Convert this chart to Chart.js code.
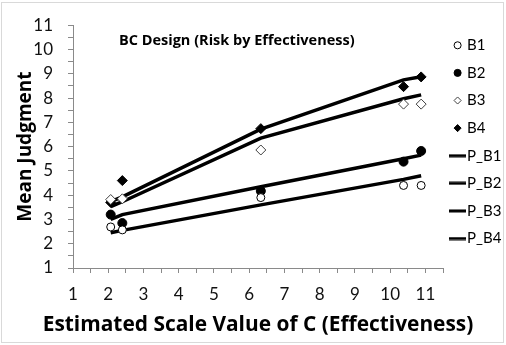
<!DOCTYPE html>
<html>
<head>
<meta charset="utf-8">
<script src="https://cdn.jsdelivr.net/npm/chart.js@4"></script>
<style>
  html, body { margin: 0; padding: 0; background: #fff; }
  #wrap { width: 506px; height: 345px; }
</style>
</head>
<body>
<div id="wrap"><canvas id="chart" width="506" height="345"></canvas></div>
<script>
// data
const xVals = [2.07, 2.4, 6.33, 10.38, 10.88];
const b1 = [2.69, 2.57, 3.9, 4.4, 4.4];
const b2 = [3.2, 2.85, 4.17, 5.38, 5.82];
const b3 = [3.82, 3.85, 5.86, 7.75, 7.75];
const b4 = [3.7, 4.6, 6.74, 8.47, 8.87];
const pB1 = [2.45, 2.55, 3.6, 4.65, 4.8];
const pB2 = [3.0, 3.2, 4.35, 5.5, 5.65];
const pB3 = [3.53, 3.73, 6.35, 7.97, 8.13];
const pB4 = [3.73, 3.93, 6.72, 8.75, 8.88];
const seriesNames = ['B1', 'B2', 'B3', 'B4', 'P_B1', 'P_B2', 'P_B3', 'P_B4'];
const chartTitle = 'BC Design (Risk by Effectiveness)';
const xTitle = 'Estimated Scale Value of C (Effectiveness)';
const yTitle = 'Mean Judgment';

document.addEventListener('DOMContentLoaded', function(){
    const ctx = document.getElementById('chart').getContext('2d');
    const FONT = 'Lato, "Open Sans", sans-serif';
    const BOLD = '"Open Sans", Lato, sans-serif';
    const AXIS = '#8a8a8a';

    const pts = ys => xVals.map((x, i) => ({x: x, y: ys[i]}));

    // short thick dash used as legend marker for the prediction lines
    const dash = document.createElement('canvas');
    dash.width = 17; dash.height = 4;
    const dctx = dash.getContext('2d');
    dctx.fillStyle = '#000';
    dctx.fillRect(0, 0.5, 17, 3);

    const pointSet = (label, ys, style, fill, border, r) => ({
        label: label, data: pts(ys), showLine: false,
        pointStyle: style, pointRadius: r, pointHoverRadius: r,
        backgroundColor: fill, borderColor: border, borderWidth: 1
    });
    const lineSet = (label, ys) => ({
        label: label, data: pts(ys), showLine: true, tension: 0,
        borderColor: '#000', backgroundColor: '#000', borderWidth: 3.5,
        pointRadius: 0, pointHoverRadius: 0, pointStyle: dash
    });

    // frame, inner title and the x axis title (drawn here so it may run wider than the axis)
    const extras = {
        id: 'extras',
        beforeDraw(chart){
            const c = chart.ctx;
            c.save();
            c.strokeStyle = '#d9d9d9';
            c.lineWidth = 1;
            c.strokeRect(1.5, 2.5, 502, 340);
            c.restore();
        },
        afterDraw(chart){
            const c = chart.ctx, a = chart.chartArea;
            c.save();
            c.fillStyle = '#000';
            c.textBaseline = 'middle';
            c.font = 'bold 14.5px ' + BOLD;
            c.fillText(chartTitle, a.left + 46, a.top + 16);

            c.textAlign = 'center';
            let size = 21;
            c.font = 'bold ' + size + 'px ' + BOLD;
            const w = c.measureText(xTitle).width;
            size = Math.min(22, size * 430 / w);
            c.font = 'bold ' + size.toFixed(1) + 'px ' + BOLD;
            c.fillText(xTitle, (a.left + a.right) / 2, a.bottom + 57);
            c.restore();
        }
    };

    new Chart(ctx, {
        type: 'scatter',
        data: {
            datasets: [
                pointSet(seriesNames[0], b1, 'circle', '#fff', '#000', 4),
                pointSet(seriesNames[1], b2, 'circle', '#000', '#000', 4.5),
                pointSet(seriesNames[2], b3, 'rectRot', '#fff', '#404040', 5),
                pointSet(seriesNames[3], b4, 'rectRot', '#000', '#000', 5),
                lineSet(seriesNames[4], pB1),
                lineSet(seriesNames[5], pB2),
                lineSet(seriesNames[6], pB3),
                lineSet(seriesNames[7], pB4)
            ]
        },
        options: {
            responsive: false,
            devicePixelRatio: 1,
            animation: false,
            layout: { padding: { left: 4, top: 18, right: 0, bottom: 2 } },
            scales: {
                x: {
                    type: 'linear', min: 1, max: 11.5,
                    afterFit(s){ s.height = 75; },
                    ticks: {
                        stepSize: 0.5, maxTicksLimit: 100, autoSkip: false, maxRotation: 0,
                        callback: v => Number.isInteger(v) ? v : '',
                        color: '#111', font: { family: FONT, size: 17 }, padding: 11
                    },
                    grid: { drawOnChartArea: false, color: AXIS, tickLength: 5 },
                    border: { color: AXIS },
                    title: { display: false }
                },
                y: {
                    type: 'linear', min: 1, max: 11,
                    afterFit(s){ s.width = 69; },
                    ticks: {
                        stepSize: 0.5, maxTicksLimit: 100, autoSkip: false,
                        callback: v => Number.isInteger(v) ? v : '',
                        color: '#111', font: { family: FONT, size: 17 }, padding: 15
                    },
                    grid: { drawOnChartArea: false, color: AXIS, tickLength: 5 },
                    border: { color: AXIS },
                    title: {
                        display: true, text: yTitle, color: '#000',
                        font: { family: BOLD, size: 19, weight: 'bold' },
                        padding: { top: 10, bottom: 0 }
                    }
                }
            },
            plugins: {
                legend: {
                    position: 'right',
                    align: 'start',
                    maxWidth: 63,
                    title: { display: true, text: '', font: { size: 1 }, padding: { top: 6, bottom: 0 } },
                    labels: {
                        usePointStyle: true, boxWidth: 4, boxHeight: 5, padding: 12.6,
                        color: '#000', font: { family: FONT, size: 15 }
                    }
                },
                tooltip: { enabled: false }
            }
        },
        plugins: [extras]
    });
});
</script>
</body>
</html>
